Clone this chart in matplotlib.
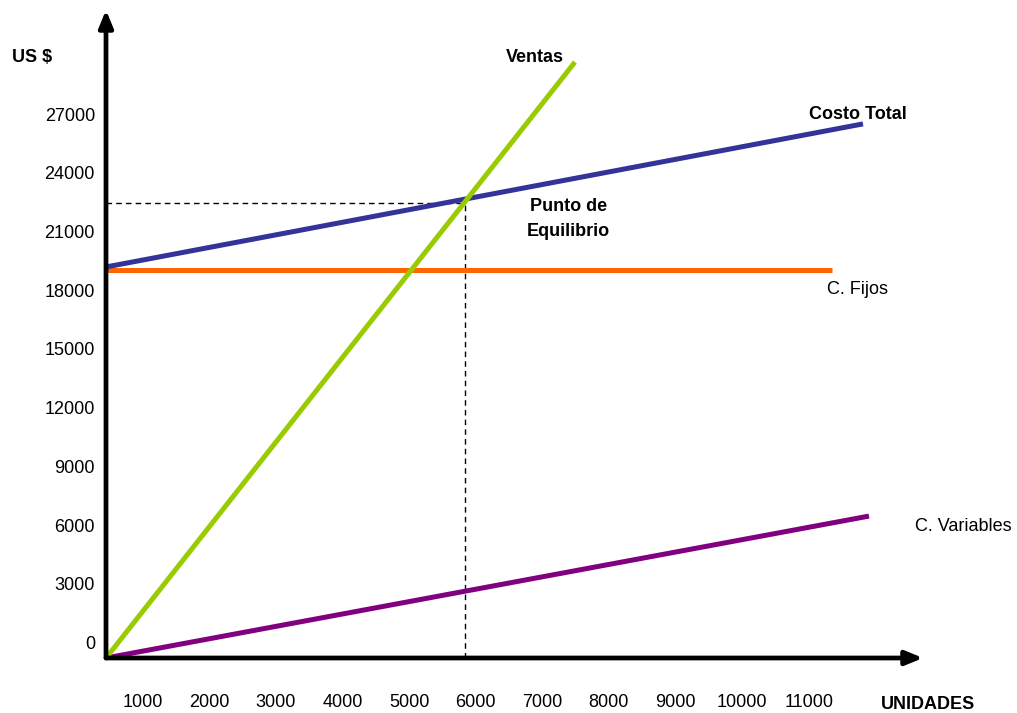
import numpy as np
import matplotlib
matplotlib.use("Agg")
import matplotlib.pyplot as plt

plt.rcParams['font.family'] = ['Liberation Sans', 'DejaVu Sans']

# tick values
x_ticks = [1000, 2000, 3000, 4000, 5000, 6000, 7000, 8000, 9000, 10000, 11000]
y_ticks = [0, 3000, 6000, 9000, 12000, 15000, 18000, 21000, 24000, 27000]

# line end points (units, US $)
ventas_units = [450, 7490]
ventas = [-790, 29660]
costo_total_units = [450, 11815]
costo_total = [19190, 26500]
fijos_units = [450, 11350]
fijos = [19050, 19050]
variables_units = [450, 11905]
variables = [-790, 6460]
equilibrio_units = 5840
equilibrio_usd = 22450

# axis origin / extent
x_min, x_max = 449, 12716
y_min, y_max = -792, 32320

fig = plt.figure(figsize=(10.17, 7.13), dpi=100)
ax = fig.add_axes([106 / 1017, 1 - 658 / 713, (923 - 106) / 1017, (658 - 10) / 713])
ax.set_xlim(x_min, x_max)
ax.set_ylim(y_min, y_max)
for s in ax.spines.values():
    s.set_visible(False)

# dashed guides to the break-even point
ax.plot([x_min, equilibrio_units], [equilibrio_usd, equilibrio_usd], color='black', lw=1, ls=(0, (4, 3)))
ax.plot([equilibrio_units, equilibrio_units], [y_min, equilibrio_usd], color='black', lw=1, ls=(0, (4, 3)))

ax.plot(fijos_units, fijos, color='#FF6600', lw=3.6, solid_capstyle='butt')
ax.plot(costo_total_units, costo_total, color='#333399', lw=3.6, solid_capstyle='butt')
ax.plot(variables_units, variables, color='#800080', lw=3.6, solid_capstyle='butt')
ax.plot(ventas_units, ventas, color='#99CC00', lw=3.6, solid_capstyle='butt')

# axes with arrow heads
arrow = dict(arrowstyle='-|>,head_length=0.85,head_width=0.35', lw=3.4, color='black',
             mutation_scale=12, shrinkA=0, shrinkB=0)
ax.annotate('', xy=(1, 0), xytext=(0, 0), xycoords='axes fraction', arrowprops=arrow)
ax.annotate('', xy=(0, 1), xytext=(0, 0), xycoords='axes fraction', arrowprops=arrow)

ax.set_xticks(x_ticks, [str(v) for v in x_ticks])
ax.set_yticks(y_ticks, [str(v) for v in y_ticks])
ax.tick_params(axis='x', length=0, pad=26, labelsize=13)
ax.tick_params(axis='y', length=0, pad=8, labelsize=13)

# labels
ax.text(6893, 29918, 'Ventas', ha='center', va='center', fontsize=13, fontweight='bold')
ax.text(11737, 26955, 'Costo Total', ha='center', va='center', fontsize=13, fontweight='bold')
ax.text(11737, 18013, 'C. Fijos', ha='center', va='center', fontsize=13)
ax.text(12596, 5953, 'C. Variables', ha='left', va='center', fontsize=13, clip_on=False)
ax.text(7387, 21640, 'Punto de\nEquilibrio', ha='center', va='center', fontsize=13,
        fontweight='bold', linespacing=1.55)
ax.text(-662, 29918, 'US $', ha='center', va='center', fontsize=13, fontweight='bold', clip_on=False)
ax.text(12790, -3150, 'UNIDADES', ha='center', va='center', fontsize=13, fontweight='bold', clip_on=False)

fig.savefig('out.png', dpi=100)
